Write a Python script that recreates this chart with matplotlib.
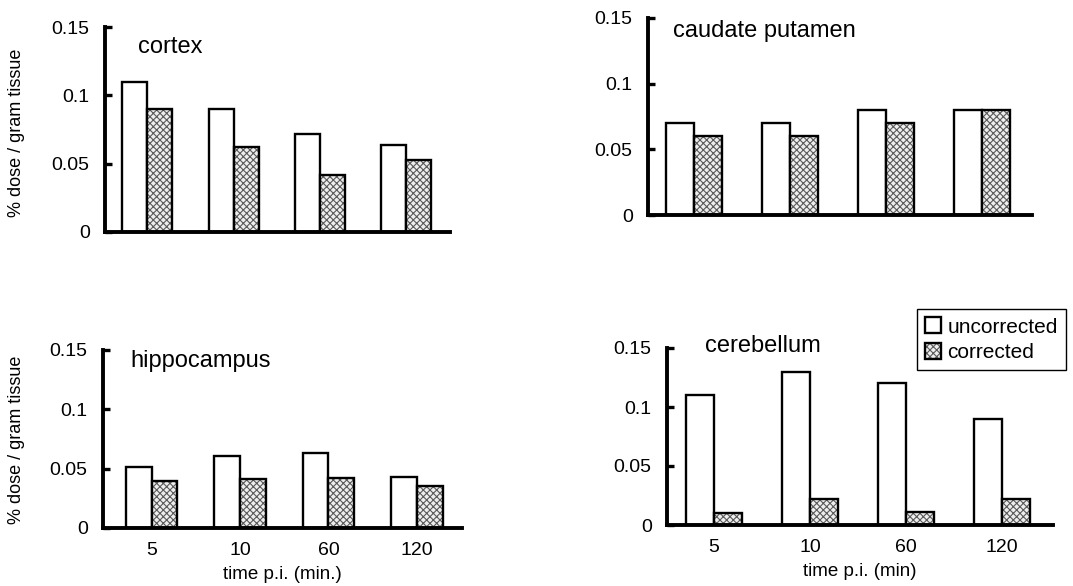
import matplotlib
matplotlib.use("Agg")
import matplotlib.pyplot as plt
import numpy as np
from matplotlib.legend_handler import HandlerTuple

plt.rcParams["font.family"] = ["Liberation Sans", "DejaVu Sans"]
plt.rcParams["hatch.linewidth"] = 0.8

# Uptake per brain region, % dose / gram tissue
times = ["5", "10", "60", "120"]
regions = ["cortex", "caudate putamen", "hippocampus", "cerebellum"]
uncorrected = {
    "cortex": [0.110, 0.090, 0.072, 0.064],
    "caudate putamen": [0.070, 0.070, 0.080, 0.080],
    "hippocampus": [0.051, 0.061, 0.063, 0.043],
    "cerebellum": [0.110, 0.130, 0.120, 0.090],
}
corrected = {
    "cortex": [0.090, 0.062, 0.042, 0.053],
    "caudate putamen": [0.060, 0.060, 0.070, 0.080],
    "hippocampus": [0.040, 0.041, 0.042, 0.035],
    "cerebellum": [0.010, 0.022, 0.011, 0.022],
}
y_ticks = [0, 0.05, 0.1, 0.15]
y_ticklabels = ["0", "0.05", "0.1", "0.15"]

W, H = 1073, 586
fig = plt.figure(figsize=(W / 100, H / 100), dpi=100)


def px_axes(x0, x1, ytop, ybot):
    return fig.add_axes([x0 / W, 1 - ybot / H, (x1 - x0) / W, (ybot - ytop) / H])


layout = {
    "cortex": dict(box=(105, 450, 27, 232), xlim=(-0.49, 3.51), title=(0.096, 0.873),
                   ylabel=(-0.232, 0.483), xlabel=None),
    "caudate putamen": dict(box=(648, 1032, 18, 215), xlim=(-0.48, 3.52), title=(0.065, 0.904),
                            ylabel=None, xlabel=None),
    "hippocampus": dict(box=(103, 462, 350, 528), xlim=(-0.55, 3.51), title=(0.075, 0.904),
                        ylabel=(-0.217, 0.494), xlabel="time p.i. (min.)"),
    "cerebellum": dict(box=(667, 1053, 348, 525), xlim=(-0.49, 3.53), title=(0.098, 0.977),
                       ylabel=None, xlabel="time p.i. (min)"),
}

width = 0.29
x = np.arange(len(times))
handles = None
for region in regions:
    cfg = layout[region]
    ax = px_axes(*cfg["box"])
    b_unc = ax.bar(x - width / 2, uncorrected[region], width, facecolor="white",
                   edgecolor="black", linewidth=1.7, zorder=2)
    b_hatch = ax.bar(x + width / 2, corrected[region], width, facecolor="#eeeeee",
                     edgecolor="#5a5a5a", hatch="xxxxx", linewidth=0, zorder=2)
    b_edge = ax.bar(x + width / 2, corrected[region], width, fill=False,
                    edgecolor="black", linewidth=1.7, zorder=3)
    if handles is None:
        handles = [b_unc, (b_hatch, b_edge)]

    ax.set_ylim(0, 0.15)
    ax.set_xlim(*cfg["xlim"])
    ax.set_yticks(y_ticks)
    ax.set_yticklabels(y_ticklabels)
    ax.set_xticks(x)
    if cfg["xlabel"]:
        ax.set_xticklabels(times)
        ax.set_xlabel(cfg["xlabel"], fontsize=13.5, labelpad=5)
    else:
        ax.set_xticklabels([])
    for side in ("top", "right"):
        ax.spines[side].set_visible(False)
    for side in ("left", "bottom"):
        ax.spines[side].set_linewidth(2.8)
    ax.tick_params(axis="y", direction="in", length=5, width=2.4, labelsize=14, pad=11)
    ax.tick_params(axis="x", length=0, labelsize=14, pad=10)
    ax.text(cfg["title"][0], cfg["title"][1], region, transform=ax.transAxes,
            fontsize=17, ha="left", va="baseline")
    if cfg["ylabel"]:
        ax.set_ylabel("% dose / gram tissue", fontsize=13)
        ax.yaxis.set_label_coords(*cfg["ylabel"])

leg = fig.legend(handles, ["uncorrected", "corrected"], loc="upper left",
                 bbox_to_anchor=(917 / W, 1 - 309 / H), borderaxespad=0,
                 fontsize=15, handlelength=0.75, handleheight=0.8, handletextpad=0.3,
                 labelspacing=0.3, borderpad=0.4, fancybox=False,
                 edgecolor="black", framealpha=1,
                 handler_map={tuple: HandlerTuple(ndivide=1, pad=0)})
leg.get_frame().set_linewidth(1.0)

fig.savefig("out.png", dpi=100)
